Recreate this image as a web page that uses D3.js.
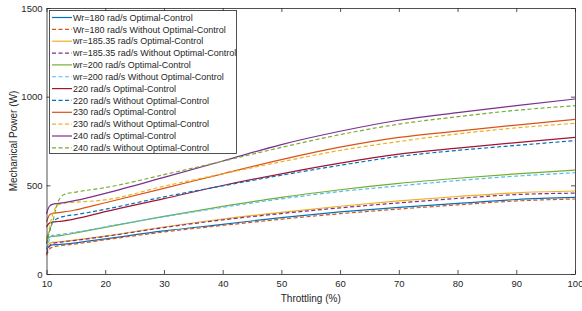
<!DOCTYPE html>
<html>
<head>
<meta charset="utf-8">
<script src="https://cdn.jsdelivr.net/npm/d3@7"></script>
<style>
  body { margin: 0; background: #fff; }
  text { font-family: "Liberation Sans", Arial, sans-serif; fill: #262626; }
</style>
</head>
<body>
<svg id="chart"></svg>
<script>
const W = 582, H = 311
const margin = { top: 8, right: 7, bottom: 37, left: 46.5 }

// Throttle samples (%)
const throttle = [10, 10.5, 11, 12, 13, 15, 20, 30, 40, 50, 60, 70, 80, 90, 100]

// Mechanical power (W)
const wr180Opt = [135, 158, 164, 166, 169, 176, 198, 243, 280, 318, 350, 376, 398, 420, 432]
const wr180NoOpt = [105, 140, 152, 158, 162, 170, 193, 237, 274, 309, 340, 366, 390, 412, 423]
const wr185Opt = [145, 172, 178, 181, 184, 192, 214, 265, 310, 348, 382, 412, 437, 458, 468]
const wr185NoOpt = [115, 155, 172, 178, 182, 190, 212, 262, 305, 341, 373, 401, 426, 448, 456]
const wr200Opt = [185, 207, 212, 215, 220, 232, 263, 325, 381, 432, 475, 511, 540, 565, 586]
const wr200NoOpt = [140, 195, 218, 222, 226, 235, 266, 323, 376, 424, 465, 497, 527, 552, 571]
const wr220Opt = [265, 287, 292, 296, 300, 312, 352, 425, 499, 565, 625, 676, 710, 741, 770]
const wr220NoOpt = [170, 240, 290, 315, 325, 335, 365, 435, 497, 557, 613, 663, 697, 725, 752]
const wr230Opt = [295, 332, 342, 346, 350, 362, 402, 483, 565, 645, 715, 770, 806, 840, 872]
const wr230NoOpt = [180, 260, 330, 390, 400, 405, 418, 495, 565, 633, 697, 747, 790, 824, 850]
const wr240Opt = [340, 382, 393, 398, 403, 415, 455, 545, 637, 730, 805, 867, 910, 949, 987]
const wr240NoOpt = [200, 240, 290, 410, 448, 462, 487, 560, 636, 714, 786, 845, 887, 923, 949]

const legendLabels = [
    'Wr=180 rad/s Optimal-Control', 'Wr=180 rad/s Without Optimal-Control',
    'wr=185.35 rad/s Optimal-Control', 'wr=185.35 rad/s Without Optimal-Control',
    'wr=200 rad/s Optimal-Control', 'wr=200 rad/s Without Optimal-Control',
    '220 rad/s Optimal-Control', '220 rad/s Without Optimal-Control',
    '230 rad/s Optimal-Control', '230 rad/s Without Optimal-Control',
    '240 rad/s Optimal-Control', '240 rad/s Without Optimal-Control'
]

const xTicks = [10, 20, 30, 40, 50, 60, 70, 80, 90, 100]
const yTicks = [0, 500, 1000, 1500]

const colors = ['#0072BD', '#D95319', '#EDB120', '#7E2F8E', '#77AC30', '#4DBEEE',
    '#A2142F', '#0072BD', '#D95319', '#EDB120', '#7E2F8E', '#77AC30']

const seriesValues = [wr180Opt, wr180NoOpt, wr185Opt, wr185NoOpt, wr200Opt, wr200NoOpt,
    wr220Opt, wr220NoOpt, wr230Opt, wr230NoOpt, wr240Opt, wr240NoOpt]

const series = seriesValues.map((vals, i) => ({
    label: legendLabels[i],
    color: colors[i],
    dashed: i % 2 === 1,
    points: vals.map((v, j) => [throttle[j], v])
}))

const svg = d3.select('#chart').attr('width', W).attr('height', H)

const x = d3.scaleLinear().domain([10, 100]).range([margin.left, W - margin.right])
const y = d3.scaleLinear().domain([0, 1500]).range([H - margin.bottom, margin.top])

// Curves (drawn first, box and legend on top)
const line = d3.line()
    .x(d => x(d[0]))
    .y(d => y(d[1]))
    .curve(d3.curveMonotoneX)

svg.append('g').classed('curves', true)
    .selectAll('path')
    .data(series)
    .enter()
        .append('path')
        .attr('d', d => line(d.points))
        .attr('fill', 'none')
        .attr('stroke', d => d.color)
        .attr('stroke-width', 1.2)
        .attr('stroke-dasharray', d => d.dashed ? '4,2.5' : null)

// Axes with inward ticks, MATLAB box style
const axisStyle = g => {
    g.select('.domain').attr('stroke', '#262626').attr('stroke-width', 0.8)
    g.selectAll('.tick line').attr('stroke', '#262626').attr('stroke-width', 0.8)
    g.selectAll('.tick text').style('font-size', '9.5px').attr('fill', '#262626')
}

svg.append('g')
    .attr('transform', `translate(0,${H - margin.bottom})`)
    .call(d3.axisBottom(x).tickValues(xTicks).tickFormat(d3.format('d'))
        .tickSizeInner(-4).tickSizeOuter(0).tickPadding(6))
    .call(axisStyle)

svg.append('g')
    .attr('transform', `translate(${margin.left},0)`)
    .call(d3.axisLeft(y).tickValues(yTicks).tickFormat(d3.format('d'))
        .tickSizeInner(-4).tickSizeOuter(0).tickPadding(4))
    .call(axisStyle)

svg.append('g')
    .attr('transform', `translate(0,${margin.top})`)
    .call(d3.axisTop(x).tickValues(xTicks).tickSizeInner(-4).tickSizeOuter(0).tickFormat(''))
    .call(axisStyle)

svg.append('g')
    .attr('transform', `translate(${W - margin.right},0)`)
    .call(d3.axisRight(y).tickValues(yTicks).tickSizeInner(-4).tickSizeOuter(0).tickFormat(''))
    .call(axisStyle)

// Axis titles
svg.append('text')
    .attr('x', (margin.left + W - margin.right) / 2)
    .attr('y', H - 9)
    .attr('text-anchor', 'middle')
    .style('font-size', '10px')
    .text('Throttling (%)')

svg.append('text')
    .attr('transform', `translate(17,${(margin.top + H - margin.bottom) / 2}) rotate(-90)`)
    .attr('text-anchor', 'middle')
    .style('font-size', '10px')
    .text('Mechanical Power (W)')

// Legend
const lg = svg.append('g').classed('legend', true)
lg.append('rect')
    .attr('x', 49.5).attr('y', 10.5)
    .attr('width', 187).attr('height', 143)
    .attr('fill', '#fff')
    .attr('stroke', '#262626')
    .attr('stroke-width', 0.8)

const entry = lg.selectAll('g.entry')
    .data(series)
    .enter()
        .append('g').classed('entry', true)
        .attr('transform', (d, i) => `translate(0,${17.5 + i * 11.85})`)

entry.append('line')
    .attr('x1', 52).attr('x2', 72)
    .attr('stroke', d => d.color)
    .attr('stroke-width', 1.2)
    .attr('stroke-dasharray', d => d.dashed ? '4,2.5' : null)

entry.append('text')
    .attr('x', 73)
    .attr('dy', '0.35em')
    .style('font-size', '9px')
    .text(d => d.label)
</script>
</body>
</html>
